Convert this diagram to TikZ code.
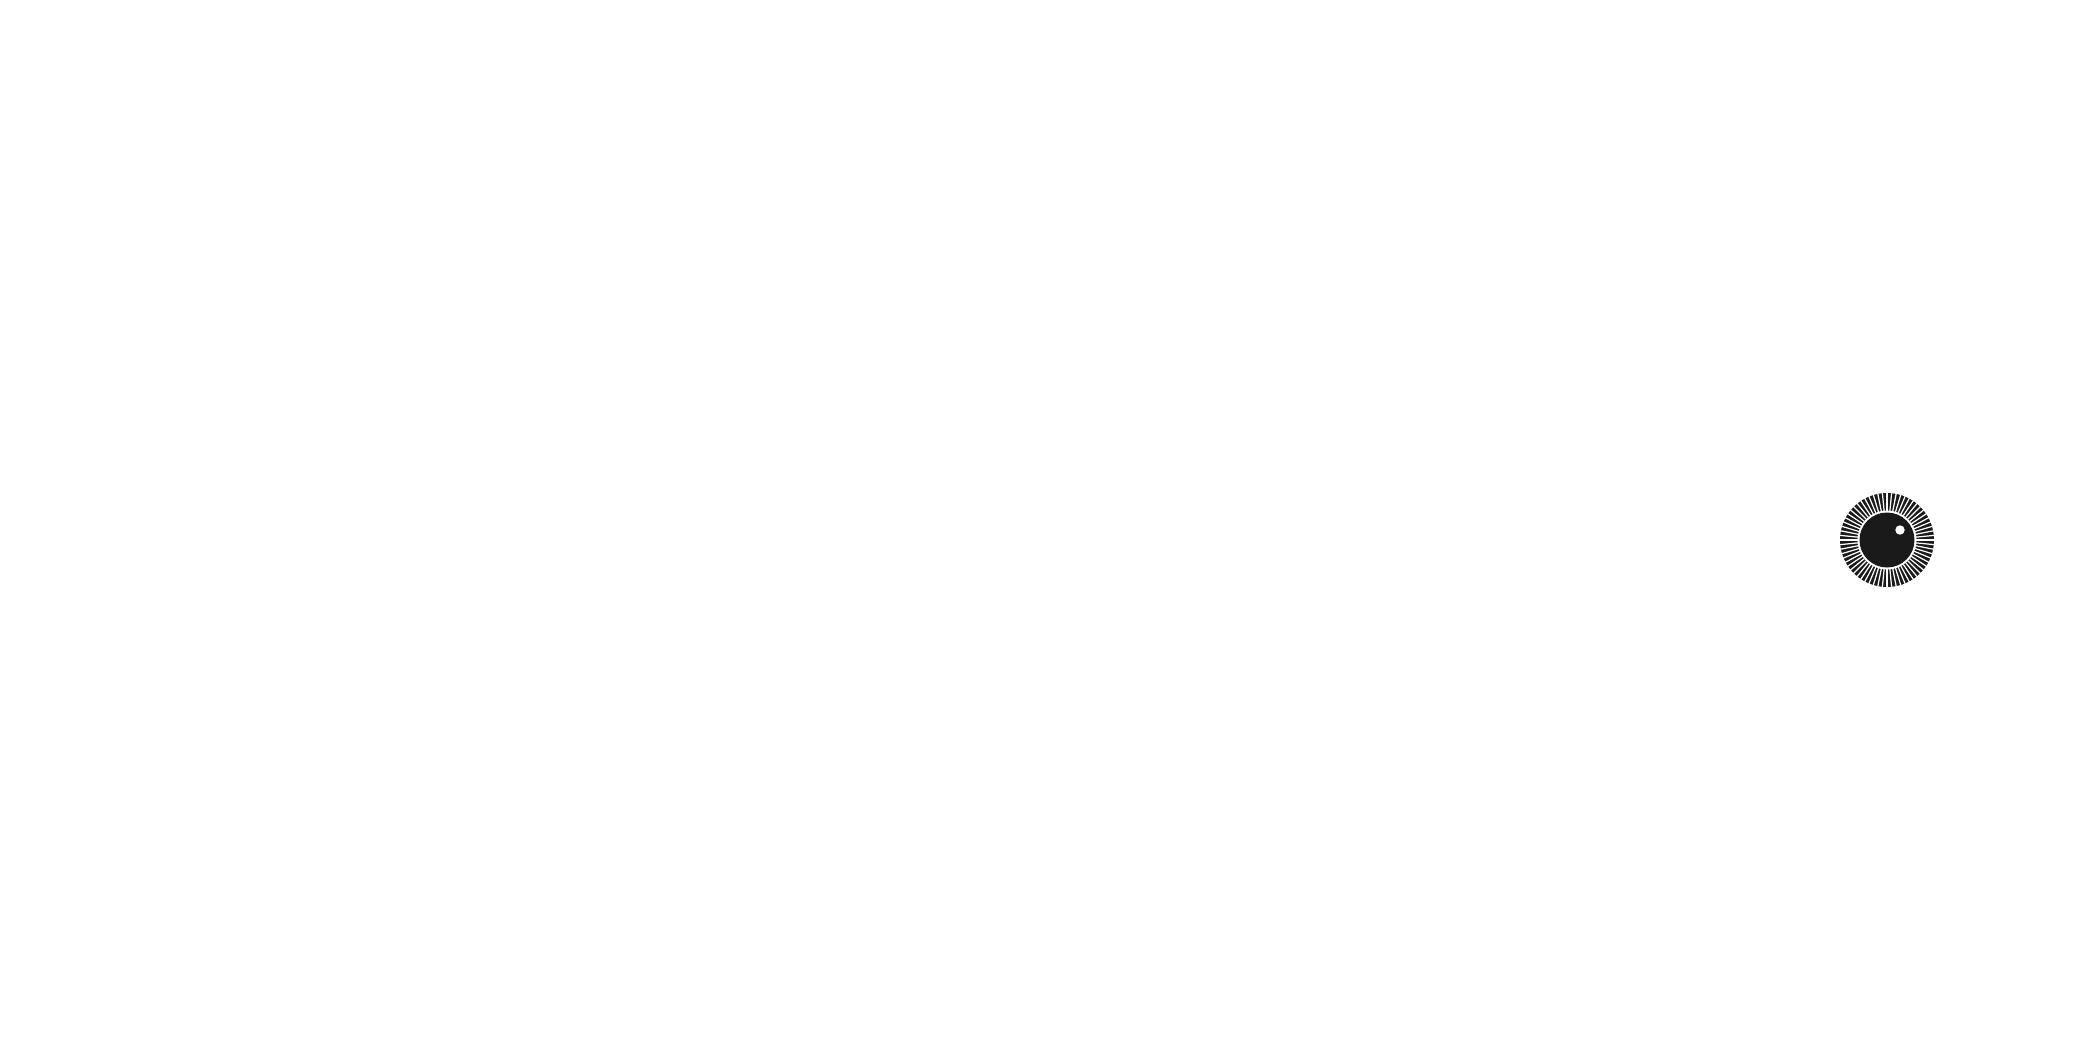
\documentclass[tikz,border=0pt]{standalone}
\usetikzlibrary{calc}
\definecolor{eyeblack}{HTML}{1A1A1A}
\begin{document}
\begin{tikzpicture}[x=0.01cm,y=-0.01cm,
  spoke/.style={white,line width=0.35pt}]
\useasboundingbox[fill=white] (0,0) rectangle (2084,1042);
\coordinate (c) at (1887,540);
\fill[eyeblack] (c) circle[radius=47];
\foreach \a in {0,5.625,...,359} {
  \draw[spoke] ($(c)+(\a:29)$) -- ($(c)+(\a:48)$);
}
\fill[white] (c) circle[radius=29.5];
\fill[eyeblack] (c) circle[radius=27.5];
\fill[white] (1900,530) circle[radius=4.7];
\end{tikzpicture}
\end{document}
